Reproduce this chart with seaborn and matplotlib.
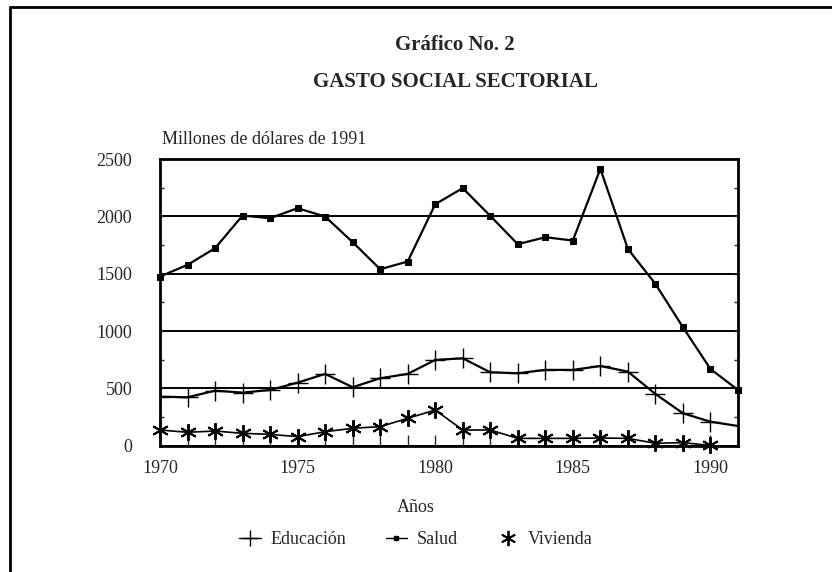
import numpy as np
import pandas as pd
import matplotlib
matplotlib.use('Agg')
import matplotlib.pyplot as plt
from matplotlib.lines import Line2D
from matplotlib.ticker import MultipleLocator
import seaborn as sns

# values (millones de dólares de 1991)
years = list(range(1970, 1992))
salud = [1475, 1577, 1722, 2007, 1984, 2071, 1998, 1775, 1539, 1606, 2106,
         2246, 2004, 1757, 1818, 1789, 2414, 1716, 1411, 1033, 669, 486]
educacion = [428, 422, 480, 463, 486, 550, 626, 510, 588, 626, 748,
             762, 640, 632, 661, 661, 695, 646, 451, 283, 209, 172]
vivienda = [137, 117, 128, 108, 99, 79, 122, 152, 166, 239, 311,
            137, 137, 64, 64, 64, 67, 64, 21, 27, 2]

sns.set_style('white')
plt.rcParams['font.family'] = ['Liberation Serif', 'DejaVu Serif']

fig = plt.figure(figsize=(8.32, 5.72), dpi=100)
ax = fig.add_axes([0.1923, 0.2208, 0.6947, 0.5012])

mk = dict(color='black', markeredgecolor='black', markerfacecolor='black')
sns.lineplot(x=years[:21], y=educacion[:21], ax=ax, lw=1.6, marker='+',
             markersize=14, markeredgewidth=1.0, label='Educación', **mk)
ax.plot(years[20:], educacion[20:], color='black', lw=1.6)
sns.lineplot(x=years, y=salud, ax=ax, lw=1.6, marker='s', markersize=4,
             label='Salud', clip_on=False, **mk)
sns.lineplot(x=years[:21], y=vivienda, ax=ax, lw=1.2, marker=(6, 2, 0),
             markersize=12, markeredgewidth=1.4, label='Vivienda',
             clip_on=False, **mk)

ax.set_xlim(1970, 1991)
ax.set_ylim(0, 2500)
ax.xaxis.set_major_locator(MultipleLocator(5))
ax.xaxis.set_minor_locator(MultipleLocator(1))
ax.yaxis.set_major_locator(MultipleLocator(500))
ax.yaxis.set_minor_locator(MultipleLocator(250))
ax.tick_params(axis='x', which='both', direction='in', length=8, width=1, bottom=True)
ax.tick_params(axis='y', which='both', direction='in', length=3, width=1,
               left=True, right=True)
ax.tick_params(axis='x', labelsize=13, pad=10)
ax.tick_params(axis='y', labelsize=13, pad=20)
for sp in ax.spines.values():
    sp.set_visible(True)
    sp.set_color('black')
    sp.set_linewidth(2)
ax.grid(axis='y', which='major', color='black', lw=1.4)
ax.set_axisbelow(True)
ax.set_xlabel('')
ax.set_ylabel('')
ax.get_legend().remove()

fig.text(0.547, 1 - 45 / 572, 'Gráfico No. 2', ha='center', va='center',
         fontsize=15, fontweight='bold')
fig.text(0.547, 1 - 82 / 572, 'GASTO SOCIAL SECTORIAL', ha='center', va='center',
         fontsize=15, fontweight='bold')
fig.text(162 / 832, 1 - 140 / 572, 'Millones de dólares de 1991', ha='left',
         va='center', fontsize=13)
fig.text(0.5, 1 - 507 / 572, 'Años', ha='center', va='center', fontsize=13)

handles = [Line2D([], [], color='black', lw=1, marker='+', markersize=12),
           Line2D([], [], color='black', lw=1, marker='s', markersize=3),
           Line2D([], [], color='black', lw=0, marker=(6, 2, 0), markersize=11,
                  markeredgewidth=1.3)]
fig.legend(handles, ['Educación', 'Salud', 'Vivienda'], loc='center',
           bbox_to_anchor=(0.5, 1 - 540 / 572), ncol=3, frameon=False,
           fontsize=13, handlelength=1.2, handletextpad=0.5, columnspacing=2.2)

# frame lines of the scanned page
fig.add_artist(Line2D([0.012, 1.0], [0.988, 0.988], color='black', lw=2))
fig.add_artist(Line2D([0.012, 0.012], [0.0, 0.988], color='black', lw=2))

fig.savefig('out.png', dpi=100)
